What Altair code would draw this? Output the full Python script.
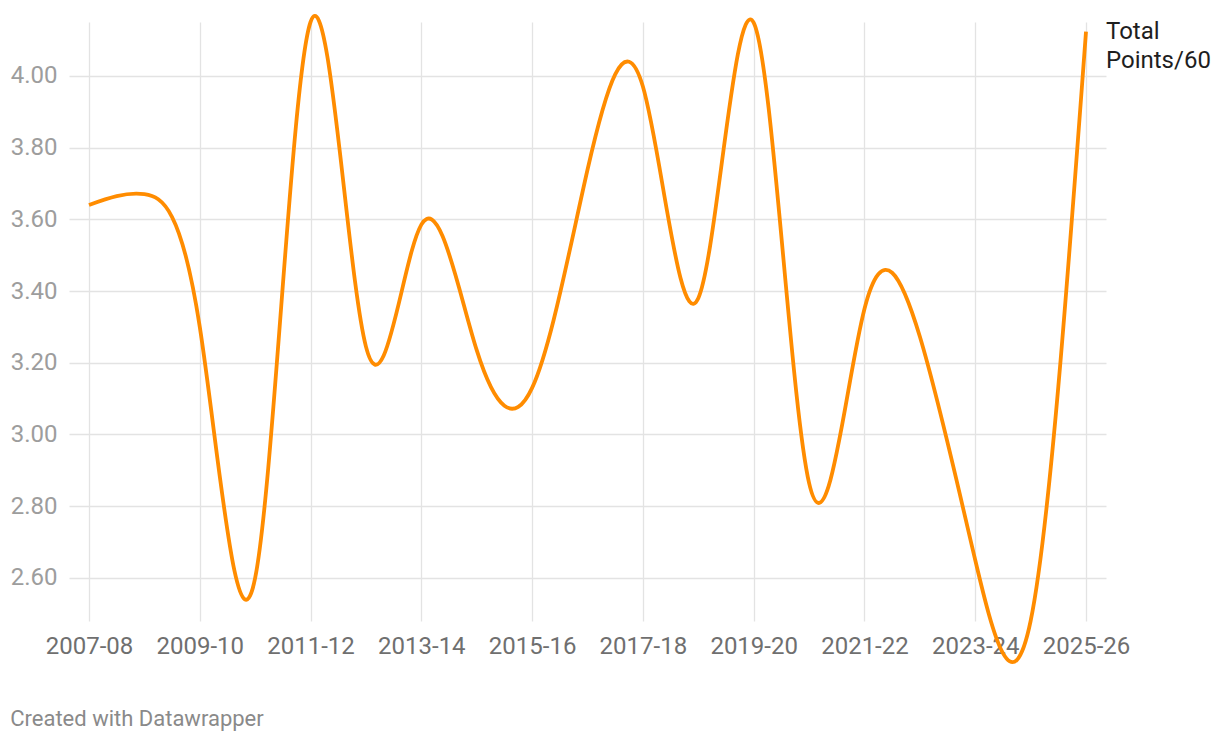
import altair as alt
import pandas as pd

seasons = ["2007-08", "2008-09", "2009-10", "2010-11", "2011-12", "2012-13",
           "2013-14", "2014-15", "2015-16", "2016-17", "2017-18", "2018-19",
           "2019-20", "2020-21", "2021-22", "2022-23", "2023-24", "2024-25",
           "2025-26"]
points_per_60 = [3.64, 3.67, 3.30, 2.60, 4.15, 3.245, 3.585, 3.235, 3.13,
                 3.738, 3.97, 3.38, 4.148, 2.865, 3.35, 3.273, 2.65, 2.48, 4.123]
tick_seasons = seasons[::2]
y_ticks = [2.6, 2.8, 3.0, 3.2, 3.4, 3.6, 3.8, 4.0]
series_name = "Total\nPoints/60"

df = pd.DataFrame({"season": seasons, "value": points_per_60})
label_df = pd.DataFrame({"season": [seasons[-1]], "value": [points_per_60[-1]],
                         "label": [series_name]})

FONT = "Roboto"

x_enc = alt.X("season:O", sort=seasons,
              scale=alt.Scale(type="point", padding=0.361),
              axis=alt.Axis(values=tick_seasons, labelAngle=0, title=None,
                            domain=False, ticks=False, grid=True,
                            gridColor="#e3e3e3", gridWidth=1.3,
                            labelFont=FONT, labelFontSize=24, labelColor="#6f6f6f",
                            labelPadding=13))
y_enc = alt.Y("value:Q",
              scale=alt.Scale(domain=[2.48, 4.15], nice=False, zero=False),
              axis=alt.Axis(values=y_ticks, format=".2f", title=None,
                            domain=False, ticks=False, grid=True,
                            gridColor="#e3e3e3", gridWidth=1.3,
                            labelFont=FONT, labelFontSize=24, labelColor="#9d9d9d",
                            labelPadding=12))

line = alt.Chart(df).mark_line(color="#ff8c00", strokeWidth=3.8,
                               interpolate="natural", clip=False).encode(
    x=x_enc, y=y_enc)

label = alt.Chart(label_df).mark_text(align="left", baseline="top", dx=20, dy=-12,
                                      font=FONT, fontSize=24, color="#1e1e1e",
                                      lineBreak="\n", lineHeight=29).encode(
    x=alt.X("season:O", sort=seasons), y=alt.Y("value:Q"), text="label:N")

chart = alt.layer(line, label).properties(
    width=1037, height=599,
    background="white",
    autosize=alt.AutoSizeParams(type="none"),
    padding={"left": 61, "top": 14, "right": 106, "bottom": 110},
    title=alt.TitleParams("Created with Datawrapper", orient="bottom", anchor="start",
                          frame="bounds", fontSize=22, font=FONT, fontWeight="normal",
                          color="#8a8a8a", offset=39),
).configure_view(stroke=None)

chart.save("out.html", embed_options={"renderer": "svg", "actions": False})
